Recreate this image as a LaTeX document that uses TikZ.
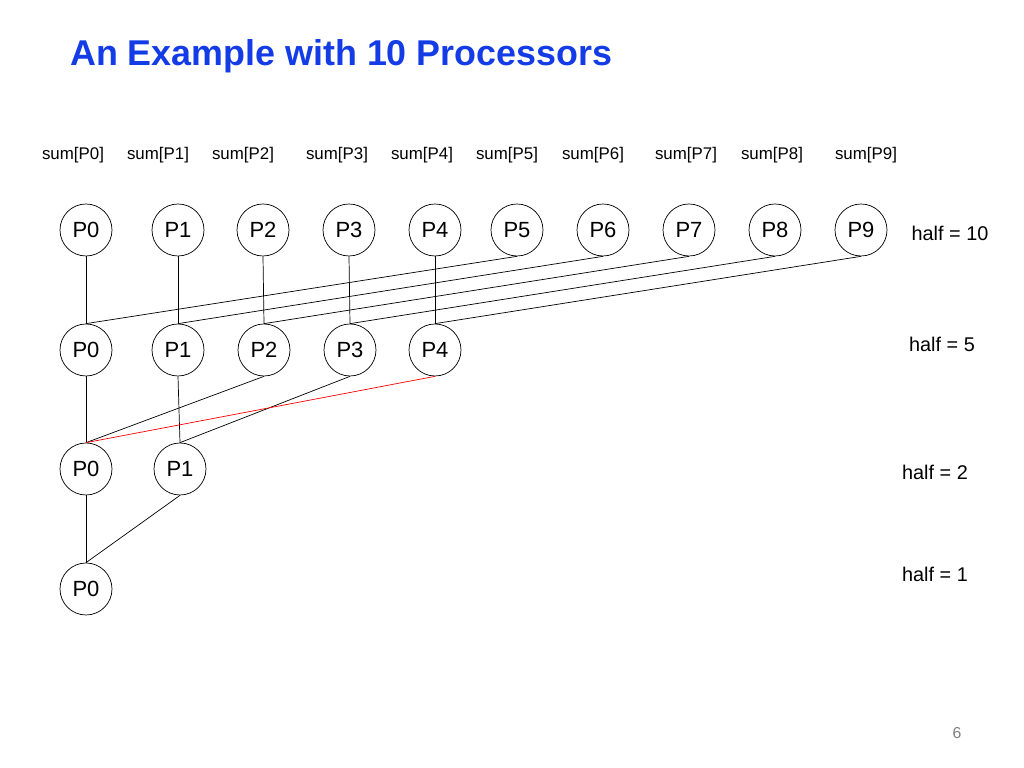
\documentclass[tikz,border=0pt]{standalone}
\usepackage{fontspec}
\setmainfont{Liberation Sans}
\definecolor{titleblue}{RGB}{20,60,230}
\tikzset{proc/.style={draw,circle,minimum size=10.4mm,inner sep=0pt,font=\fontsize{12.5}{14}\selectfont},
sumlabel/.style={font=\fontsize{9.6}{11}\selectfont},
halflabel/.style={font=\fontsize{11.3}{13}\selectfont}}
\begin{document}
\begin{tikzpicture}[x=0.2mm,y=-0.2mm]
\useasboundingbox (0,0) rectangle (1024,768);
\node[anchor=west,text=titleblue,font=\fontsize{20.4}{24}\bfseries] (title) at (64,56) {An Example with 10 Processors};

\foreach \i/\x in {0/73,1/158,2/243,3/337,4/422,5/507,6/593,7/686,8/772,9/866}
  \node[sumlabel] (s\i) at (\x,155) {sum[P\i]};

\foreach \i/\x in {0/86,1/178,2/263,3/349,4/435,5/517,6/603,7/689,8/775,9/861}
  \node[proc] (a\i) at (\x,230) {P\i};
\foreach \i/\x in {0/86,1/178,2/264,3/350,4/435}
  \node[proc] (b\i) at (\x,350) {P\i};
\node[proc] (c0) at (86,469) {P0};
\node[proc] (c1) at (180,469) {P1};
\node[proc] (d0) at (86,589) {P0};

\node[halflabel] (h10) at (950,233) {half = 10};
\node[halflabel] (h5) at (942,344) {half = 5};
\node[halflabel] (h2) at (935,472) {half = 2};
\node[halflabel] (h1) at (935,574) {half = 1};
\node[text=gray,font=\fontsize{9}{11}\selectfont] (page) at (957,733) {6};

\foreach \i in {0,...,4}
  \draw (a\i.south) -- (b\i.north);
\draw (a5.south) -- (b0.north);
\draw (a6.south) -- (b1.north);
\draw (a7.south) -- (b2.north);
\draw (a8.south) -- (b3.north);
\draw (a9.south) -- (b4.north);

\draw (b0.south) -- (c0.north);
\draw (b1.south) -- (c1.north);
\draw (b2.south) -- (c0.north);
\draw (b3.south) -- (c1.north);
\draw [red] (b4.south) -- (c0.north);

\draw (c0.south) -- (d0.north);
\draw (c1.south) -- (d0.north);
\end{tikzpicture}
\end{document}
